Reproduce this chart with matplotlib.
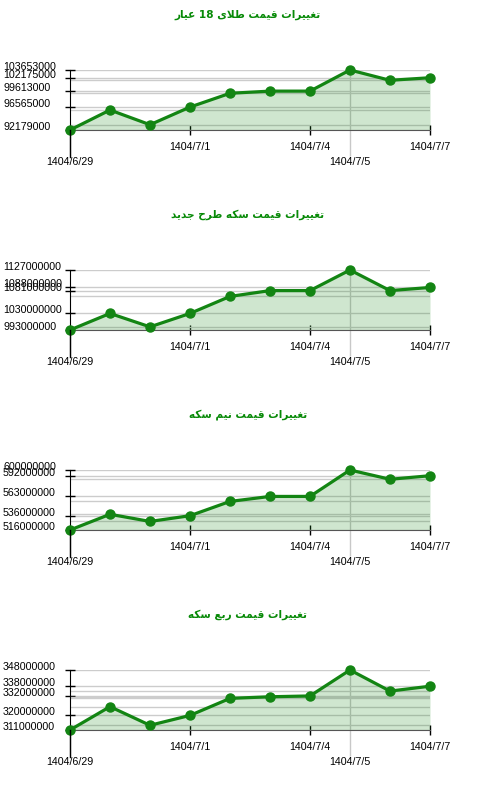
import re
import matplotlib
matplotlib.use('Agg')
import matplotlib.pyplot as plt
from matplotlib.ticker import FixedLocator

titles = ['تغییرات قیمت طلای 18 عیار',
          'تغییرات قیمت سکه طرح جدید',
          'تغییرات قیمت نیم سکه',
          'تغییرات قیمت ربع سکه']

# positions of the labelled points and their dates
label_idx = [0, 3, 6, 7, 9]
label_dates = ['1404/6/29', '1404/7/1', '1404/7/4', '1404/7/5', '1404/7/7']
lower_idx = [0, 7]   # these labels sit on the second row

gold18 = [92179000, 96000000, 93190000, 96565000, 99200000,
          99613000, 99613000, 103653000, 101680000, 102175000]
coin_new = [993000000, 1030000000, 1000000000, 1030000000, 1068000000,
            1081000000, 1081000000, 1127000000, 1081000000, 1088000000]
half_coin = [516000000, 538000000, 528000000, 536000000, 556000000,
             563000000, 563000000, 600000000, 587000000, 592000000]
quarter_coin = [311000000, 325400000, 313900000, 320000000, 330500000,
                331500000, 332000000, 348000000, 335000000, 338000000]

series = [gold18, coin_new, half_coin, quarter_coin]

# arabic presentation forms: isolated, final, initial, medial
FORMS = {
    'ا': ('\uFE8D', '\uFE8E', None, None),
    'ب': ('\uFE8F', '\uFE90', '\uFE91', '\uFE92'),
    'ت': ('\uFE95', '\uFE96', '\uFE97', '\uFE98'),
    'ج': ('\uFE9D', '\uFE9E', '\uFE9F', '\uFEA0'),
    'ح': ('\uFEA1', '\uFEA2', '\uFEA3', '\uFEA4'),
    'د': ('\uFEA9', '\uFEAA', None, None),
    'ر': ('\uFEAD', '\uFEAE', None, None),
    'س': ('\uFEB1', '\uFEB2', '\uFEB3', '\uFEB4'),
    'ط': ('\uFEC1', '\uFEC2', '\uFEC3', '\uFEC4'),
    'ع': ('\uFEC9', '\uFECA', '\uFECB', '\uFECC'),
    'غ': ('\uFECD', '\uFECE', '\uFECF', '\uFED0'),
    'ق': ('\uFED5', '\uFED6', '\uFED7', '\uFED8'),
    'ل': ('\uFEDD', '\uFEDE', '\uFEDF', '\uFEE0'),
    'م': ('\uFEE1', '\uFEE2', '\uFEE3', '\uFEE4'),
    'ن': ('\uFEE5', '\uFEE6', '\uFEE7', '\uFEE8'),
    'ه': ('\uFEE9', '\uFEEA', '\uFEEB', '\uFEEC'),
    'ی': ('\uFBFC', '\uFBFD', '\uFBFE', '\uFBFF'),
    'ک': ('\uFB8E', '\uFB8F', '\uFB90', '\uFB91'),
}


def joins_next(c):
    return c in FORMS and FORMS[c][2] is not None


def shape(text):
    '''
    Very small arabic shaper: picks contextual forms, then reverses for display
    '''
    out = []
    i = 0
    n = len(text)
    while i < n:
        c = text[i]
        if c not in FORMS:
            out.append(c)
            i += 1
            continue
        link_prev = i > 0 and joins_next(text[i - 1])
        if c == 'ل' and i + 1 < n and text[i + 1] == 'ا':
            out.append('\uFEFC' if link_prev else '\uFEFB')
            i += 2
            continue
        link_next = joins_next(c) and i + 1 < n and text[i + 1] in FORMS
        iso, fin, ini, med = FORMS[c]
        if link_prev and link_next:
            out.append(med)
        elif link_prev:
            out.append(fin)
        elif link_next:
            out.append(ini)
        else:
            out.append(iso)
        i += 1
    vis = ''.join(reversed(out))
    return re.sub(r'[0-9]+', lambda m: m.group(0)[::-1], vis)


LINE = '#138513'
GRID = '#c8c8c8'
TEXT_FONT = 'Liberation Sans'
FS = 7.7

fig = plt.figure(figsize=(5, 8), dpi=100)

for k, vals in enumerate(series):
    ax = fig.add_axes([0.14, 1 - (130 + 200 * k) / 800, 0.72, 60 / 800])
    x = list(range(len(vals)))
    ymin, ymax = min(vals), max(vals)

    ax.fill_between(x, vals, ymin, color=LINE, alpha=0.2, linewidth=0, zorder=2)
    ax.plot(x, vals, color=LINE, lw=2.3, marker='o', ms=6.5, clip_on=False, zorder=4)

    ax.set_xlim(0, len(vals) - 1)
    ax.set_ylim(ymin, ymax)

    # y ticks at the labelled points, grid at every value
    yt = [vals[i] for i in label_idx]
    ax.set_yticks(yt)
    ax.set_yticklabels([str(v) for v in yt], fontsize=FS, family=TEXT_FONT)
    ax.yaxis.set_minor_locator(FixedLocator(sorted(set(vals))))
    ax.tick_params(axis='y', which='major', direction='inout', length=7.2,
                   width=1, pad=44.6, colors='black')
    ax.tick_params(axis='y', which='minor', length=0)
    for lbl in ax.get_yticklabels():
        lbl.set_ha('left')
        lbl.set_va('baseline')
    ax.grid(axis='y', which='both', color='#cccccc', lw=1, zorder=1)

    # x ticks: two rows
    upper = [i for i in label_idx if i not in lower_idx]
    ax.set_xticks(upper)
    ax.set_xticklabels([label_dates[label_idx.index(i)] for i in upper],
                       fontsize=FS, family=TEXT_FONT)
    ax.set_xticks(lower_idx, minor=True)
    ax.set_xticklabels([label_dates[label_idx.index(i)] for i in lower_idx],
                       minor=True, fontsize=FS, family=TEXT_FONT)
    ax.tick_params(axis='x', which='major', direction='inout', length=7.2,
                   width=1, pad=5, colors='black')
    ax.tick_params(axis='x', which='minor', direction='out', length=18.7,
                   width=1, pad=1, color=GRID, labelcolor='black')
    # vertical line at the peak day
    ax.axvline(vals.index(ymax), color=GRID, lw=1, zorder=1)
    # left axis runs down to the first date label
    ax.plot([0, 0], [0, -0.45], transform=ax.transAxes, color='black',
            lw=1, clip_on=False, zorder=5)

    for s in ['top', 'right']:
        ax.spines[s].set_visible(False)
    ax.spines['left'].set_color('black')
    ax.spines['bottom'].set_color('#555555')
    ax.set_facecolor('none')

    fig.text(0.496, 1 - (14.5 + 200 * k) / 800, shape(titles[k]), ha='center',
             va='center', fontsize=7.6, fontweight='bold', color='#088a08',
             family='DejaVu Sans')

fig.savefig('out.png', dpi=100)
